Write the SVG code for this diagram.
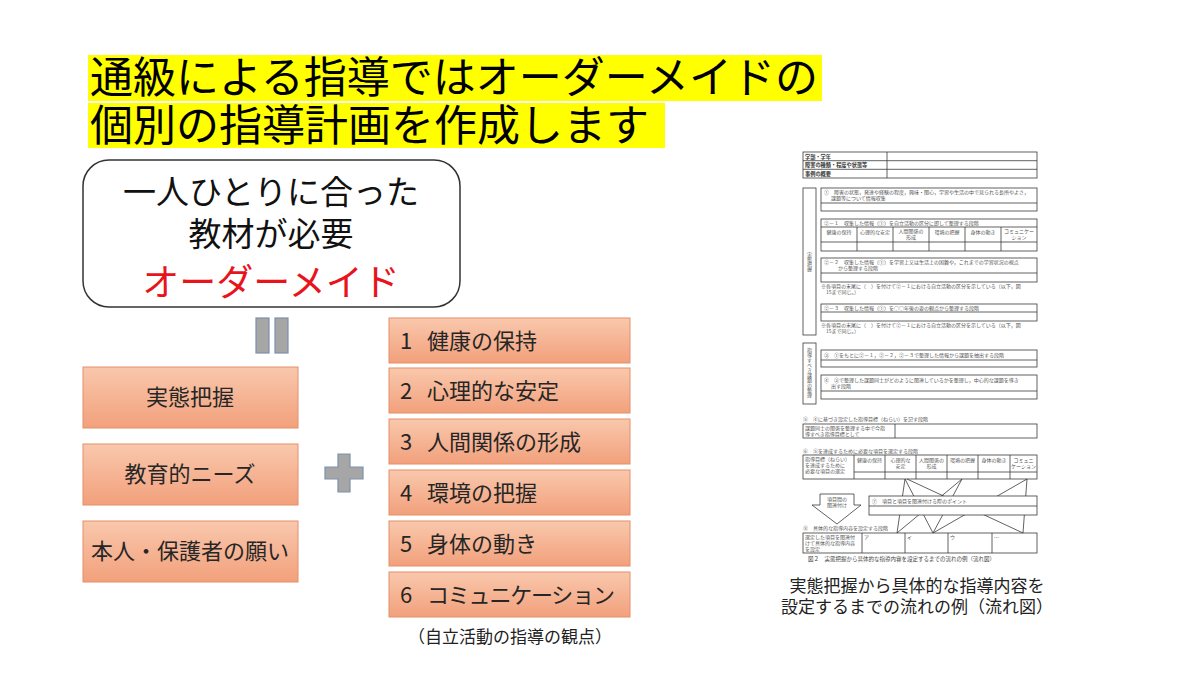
<svg xmlns="http://www.w3.org/2000/svg" width="1200" height="675" viewBox="0 0 1200 675">
<defs>
  <linearGradient id="og" x1="0" y1="0" x2="0" y2="1">
    <stop offset="0" stop-color="#f9c8ad"/>
    <stop offset="1" stop-color="#f2a07b"/>
  </linearGradient>
</defs>
<style>
  text { font-family: "Noto Sans CJK JP", "Noto Sans", sans-serif; }
  .ttl { font-size: 43px; fill: #000; }
  .ob { fill: url(#og); stroke: #e4906a; stroke-width: 1; }
  .obt { font-size: 22px; fill: #262626; }
  .gr { fill: #a6a6a6; stroke: #7e90aa; stroke-width: 1.2; }
  .f { fill: none; stroke: #3a3a3a; stroke-width: 0.8; }
  .fw { fill: #fff; stroke: #3a3a3a; stroke-width: 0.8; }
  .fl { stroke: #3a3a3a; stroke-width: 0.8; fill: none; }
  .ft { font-size: 5px; fill: #555; }
  .ftb { font-size: 5.2px; fill: #333; font-weight: bold; }
  .ftc { font-size: 5px; fill: #555; text-anchor: middle; }
  .cap { font-size: 17px; fill: #222; text-anchor: middle; }
</style>
<rect width="1200" height="675" fill="#fff"/>

<g id="title">
  <rect x="88" y="55" width="734" height="46" fill="#ffff00"/>
  <rect x="88" y="103" width="577" height="45" fill="#ffff00"/>
  <text class="ttl" x="90" y="93">通級による指導ではオーダーメイドの</text>
  <text class="ttl" x="90" y="141">個別の指導計画を作成します</text>
</g>

<g id="ordermade">
  <rect x="83" y="160" width="377" height="147" rx="26" fill="#fff" stroke="#333" stroke-width="1.5"/>
  <text x="271" y="204" font-size="33" fill="#111" text-anchor="middle">一人ひとりに合った</text>
  <text x="271" y="246" font-size="33" fill="#111" text-anchor="middle">教材が必要</text>
  <text x="271" y="296" font-size="37" fill="#e8141b" text-anchor="middle">オーダーメイド</text>
</g>

<g id="equals">
  <rect class="gr" x="256" y="318" width="13" height="35"/>
  <rect class="gr" x="275" y="318" width="13" height="35"/>
</g>

<g id="jittai">
  <rect class="ob" x="83" y="367" width="215" height="61"/>
  <text class="obt" x="190" y="405" text-anchor="middle">実態把握</text>
</g>
<g id="needs">
  <rect class="ob" x="83" y="444" width="215" height="61"/>
  <text class="obt" x="190" y="482" text-anchor="middle">教育的ニーズ</text>
</g>
<g id="negai">
  <rect class="ob" x="83" y="521" width="215" height="61"/>
  <text class="obt" x="190" y="559" text-anchor="middle">本人・保護者の願い</text>
</g>

<g id="plus">
  <path class="gr" d="M338,454 h12 v13 h13 v12 h-13 v13 h-12 v-13 h-13 v-12 h13 z"/>
</g>

<g id="k1"><rect class="ob" x="389" y="318" width="241" height="45"/><text class="obt" y="349"><tspan x="400">1</tspan><tspan x="427">健康の保持</tspan></text></g>
<g id="k2"><rect class="ob" x="389" y="368" width="241" height="45"/><text class="obt" y="399"><tspan x="400">2</tspan><tspan x="427">心理的な安定</tspan></text></g>
<g id="k3"><rect class="ob" x="389" y="419" width="241" height="45"/><text class="obt" y="450"><tspan x="400">3</tspan><tspan x="427">人間関係の形成</tspan></text></g>
<g id="k4"><rect class="ob" x="389" y="470" width="241" height="45"/><text class="obt" y="501"><tspan x="400">4</tspan><tspan x="427">環境の把握</tspan></text></g>
<g id="k5"><rect class="ob" x="389" y="521" width="241" height="45"/><text class="obt" y="552"><tspan x="400">5</tspan><tspan x="427">身体の動き</tspan></text></g>
<g id="k6"><rect class="ob" x="389" y="572" width="241" height="45"/><text class="obt" y="603"><tspan x="400">6</tspan><tspan x="427" letter-spacing="-1.2">コミュニケーション</tspan></text></g>
<g id="kanten">
  <text x="510" y="643" font-size="17" fill="#222" text-anchor="middle">（自立活動の指導の観点）</text>
</g>

<g id="flowchart">
  <rect class="f" x="803" y="152" width="234" height="26"/>
  <line class="fl" x1="803" y1="160.7" x2="1037" y2="160.7"/>
  <line class="fl" x1="803" y1="169.3" x2="1037" y2="169.3"/>
  <line class="fl" x1="887" y1="152" x2="887" y2="178"/>
  <text class="ftb" x="805" y="158.5">学部・学年</text>
  <text class="ftb" x="805" y="167">障害の種類・程度や状態等</text>
  <text class="ftb" x="805" y="175.8">事例の概要</text>

  <rect class="f" x="803" y="188" width="13" height="147"/>
  <text class="ft" x="809.5" y="252" style="writing-mode: vertical-rl">実態把握</text>

  <rect class="f" x="821" y="188" width="216" height="23"/>
  <line class="fl" x1="821" y1="203" x2="1037" y2="203"/>
  <text class="ft" x="824" y="194">①　障害の状態，発達や経験の程度，興味・関心，学習や生活の中で見られる長所やよさ，</text>
  <text class="ft" x="831" y="200">課題等について情報収集</text>

  <rect class="f" x="821" y="219" width="216" height="32"/>
  <line class="fl" x1="821" y1="227" x2="1037" y2="227"/>
  <line class="fl" x1="821" y1="242" x2="1037" y2="242"/>
  <line class="fl" x1="857" y1="227" x2="857" y2="251"/>
  <line class="fl" x1="893" y1="227" x2="893" y2="251"/>
  <line class="fl" x1="929" y1="227" x2="929" y2="251"/>
  <line class="fl" x1="965" y1="227" x2="965" y2="251"/>
  <line class="fl" x1="1001" y1="227" x2="1001" y2="251"/>
  <text class="ft" x="824" y="225">②－１　収集した情報（①）を自立活動の区分に即して整理する段階</text>
  <text class="ftc" x="839" y="234">健康の保持</text>
  <text class="ftc" x="875" y="234">心理的な安定</text>
  <text class="ftc" x="911" y="233">人間関係の</text>
  <text class="ftc" x="911" y="239">形成</text>
  <text class="ftc" x="947" y="234">環境の把握</text>
  <text class="ftc" x="983" y="234">身体の動き</text>
  <text class="ftc" x="1019" y="233">コミュニケー</text>
  <text class="ftc" x="1019" y="239">ション</text>

  <rect class="f" x="821" y="258" width="216" height="24"/>
  <line class="fl" x1="821" y1="273" x2="1037" y2="273"/>
  <text class="ft" x="824" y="264">②－２　収集した情報（①）を学習上又は生活上の困難や，これまでの学習状況の視点</text>
  <text class="ft" x="838" y="270">から整理する段階</text>
  <text class="ft" x="821" y="288">※各項目の末尾に（　）を付けて②－１における自立活動の区分を示している（以下，図</text>
  <text class="ft" x="826" y="294">15まで同じ。）</text>

  <rect class="f" x="821" y="304" width="216" height="17"/>
  <line class="fl" x1="821" y1="312" x2="1037" y2="312"/>
  <text class="ft" x="824" y="310">②－３　収集した情報（①）を○○年後の姿の観点から整理する段階</text>
  <text class="ft" x="821" y="327">※各項目の末尾に（　）を付けて②－１における自立活動の区分を示している（以下，図</text>
  <text class="ft" x="826" y="333">15まで同じ。）</text>

  <rect class="f" x="803" y="343" width="13" height="61"/>
  <text class="ft" x="809.5" y="348" style="writing-mode: vertical-rl">指導すべき課題の整理</text>

  <rect class="f" x="821" y="350" width="216" height="17"/>
  <line class="fl" x1="821" y1="360" x2="1037" y2="360"/>
  <text class="ft" x="824" y="357">③　①をもとに②－１，②－２，②－３で整理した情報から課題を抽出する段階</text>

  <rect class="f" x="821" y="375" width="216" height="24"/>
  <line class="fl" x1="821" y1="391" x2="1037" y2="391"/>
  <text class="ft" x="824" y="382">④　③で整理した課題同士がどのように関連しているかを整理し，中心的な課題を導き</text>
  <text class="ft" x="831" y="388">出す段階</text>

  <text class="ft" x="803" y="421">⑤　④に基づき設定した指導目標（ねらい）を記す段階</text>
  <rect class="f" x="803" y="424" width="234" height="14"/>
  <line class="fl" x1="895" y1="424" x2="895" y2="438"/>
  <text class="ft" x="805" y="430">課題同士の関係を整理する中で今指</text>
  <text class="ft" x="805" y="436">導すべき指導目標として</text>

  <text class="ft" x="803" y="453">⑥　⑤を達成するために必要な項目を選定する段階</text>
  <rect class="f" x="803" y="455" width="234" height="24"/>
  <line class="fl" x1="854" y1="472" x2="1037" y2="472"/>
  <line class="fl" x1="854" y1="455" x2="854" y2="479"/>
  <line class="fl" x1="885" y1="455" x2="885" y2="479"/>
  <line class="fl" x1="916" y1="455" x2="916" y2="479"/>
  <line class="fl" x1="947" y1="455" x2="947" y2="479"/>
  <line class="fl" x1="978" y1="455" x2="978" y2="479"/>
  <line class="fl" x1="1010" y1="455" x2="1010" y2="479"/>
  <text class="ft" x="805" y="461">指導目標（ねらい）</text>
  <text class="ft" x="805" y="467">を達成するために</text>
  <text class="ft" x="805" y="473">必要な項目の選定</text>
  <text class="ftc" x="869.5" y="462">健康の保持</text>
  <text class="ftc" x="900.5" y="462">心理的な</text>
  <text class="ftc" x="900.5" y="468">安定</text>
  <text class="ftc" x="931.5" y="462">人間関係の</text>
  <text class="ftc" x="931.5" y="468">形成</text>
  <text class="ftc" x="962.5" y="462">環境の把握</text>
  <text class="ftc" x="994" y="462">身体の動き</text>
  <text class="ftc" x="1023.5" y="462">コミュニ</text>
  <text class="ftc" x="1023.5" y="468">ケーション</text>

  <polygon class="fw" points="820,494 854,494 854,505 861,505 837,524 812,505 820,505"/>
  <text class="ftc" x="837" y="501">項目間の</text>
  <text class="ftc" x="837" y="507">関連付け</text>

  <text class="ft" x="803" y="530">⑧　具体的な指導内容を設定する段階</text>
  <rect class="f" x="803" y="533" width="234" height="20"/>
  <line class="fl" x1="862" y1="533" x2="862" y2="553"/>
  <line class="fl" x1="905" y1="533" x2="905" y2="553"/>
  <line class="fl" x1="948" y1="533" x2="948" y2="553"/>
  <line class="fl" x1="992" y1="533" x2="992" y2="553"/>
  <text class="ft" x="805" y="539">選定した項目を関連付</text>
  <text class="ft" x="805" y="545">けて具体的な指導内容</text>
  <text class="ft" x="805" y="551">を設定</text>
  <text class="ft" x="864" y="539">ア</text>
  <text class="ft" x="907" y="539">イ</text>
  <text class="ft" x="950" y="539">ウ</text>
  <text class="ft" x="994" y="539">…</text>

  <text x="808" y="561" font-size="5.5" fill="#444">図２　実態把握から具体的な指導内容を設定するまでの流れの例（流れ図）</text>
</g>

<g id="connectors">
  <line class="fl" stroke-width="1" x1="905" y1="479" x2="897" y2="533"/>
  <line class="fl" stroke-width="1" x1="905" y1="479" x2="933" y2="533"/>
  <line class="fl" stroke-width="1" x1="907" y1="479" x2="1023" y2="533"/>
  <line class="fl" stroke-width="1" x1="962" y1="479" x2="897" y2="533"/>
  <line class="fl" stroke-width="1" x1="962" y1="479" x2="933" y2="533"/>
  <line class="fl" stroke-width="1" x1="1027" y1="479" x2="933" y2="533"/>
  <line class="fl" stroke-width="1" x1="1027" y1="479" x2="1023" y2="533"/>
</g>

<g id="point7">
  <rect class="fw" x="869" y="496" width="168" height="19"/>
  <line class="fl" x1="869" y1="506" x2="1037" y2="506"/>
  <text class="ft" x="872" y="503">⑦　項目と項目を関連付ける際のポイント</text>
</g>

<g id="caption">
  <text class="cap" x="917" y="592">実態把握から具体的な指導内容を</text>
  <text class="cap" x="917" y="613">設定するまでの流れの例（流れ図）</text>
</g>
</svg>
